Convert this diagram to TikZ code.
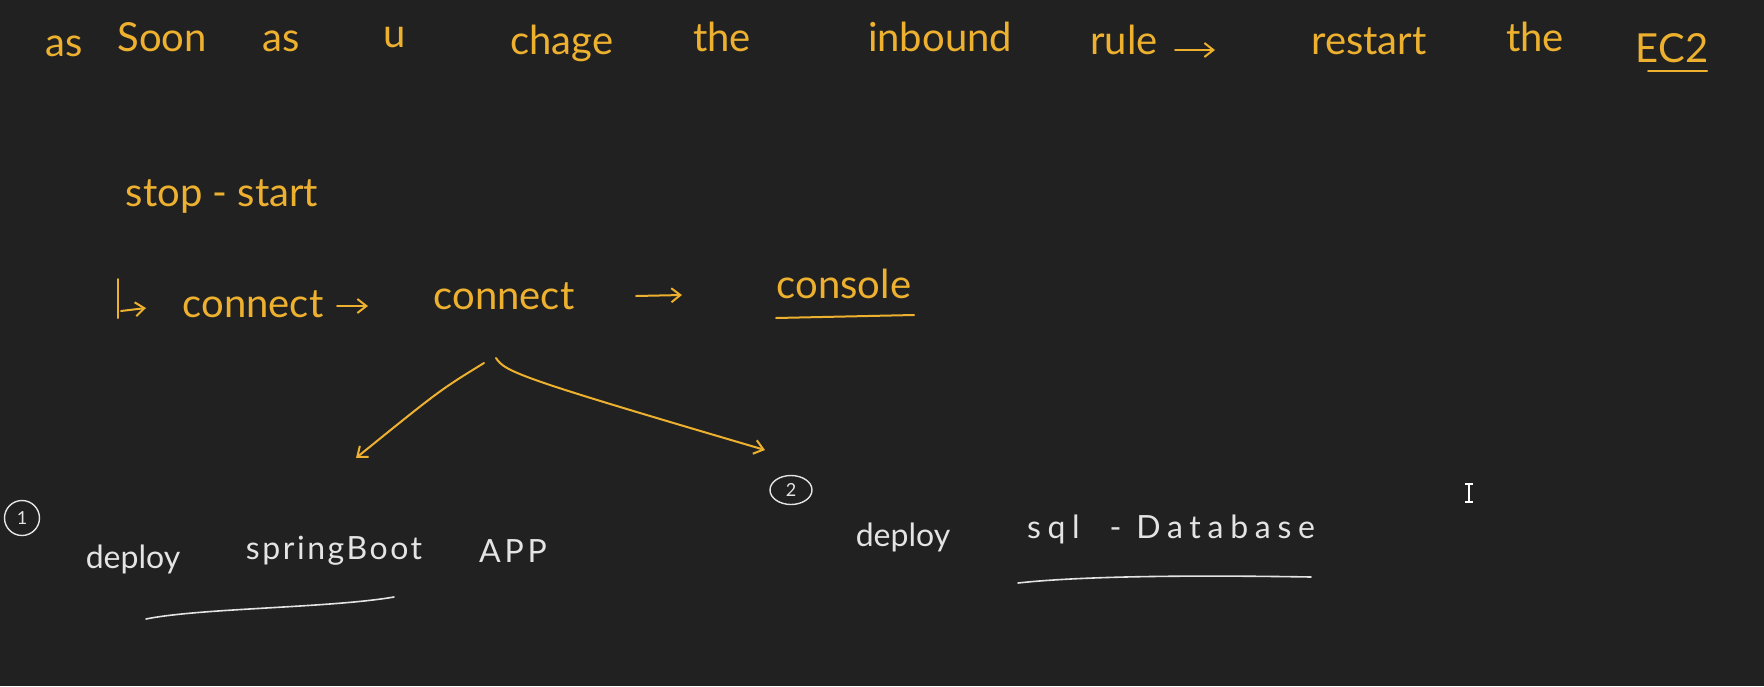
\documentclass[tikz,border=0pt]{standalone}
\usepackage{fontspec}
\setmainfont{Lato}
\newfontfamily\widefont[LetterSpace=12]{Lato}
\newfontfamily\midfont[LetterSpace=8]{Lato}
\newfontfamily\widerfont[LetterSpace=21]{Lato}
\usetikzlibrary{arrows.meta,shapes.geometric}
\definecolor{bg}{HTML}{212121}
\definecolor{ylw}{HTML}{EDB12F}
\definecolor{wht}{HTML}{E4E4E4}
\begin{document}
\begin{tikzpicture}[x=1pt,y=-1pt,
  ytxt/.style={text=ylw, font=\fontsize{40}{48}\selectfont, anchor=base, inner sep=0pt},
  wtxt/.style={text=wht, font=\fontsize{32}{38}\selectfont, anchor=base, inner sep=0pt},
  ystroke/.style={draw=ylw, line width=2pt, line cap=round},
  wstroke/.style={draw=wht, line width=1.6pt, line cap=round},
  yarr/.style={ystroke, -{Straight Barb[length=9pt,width=14pt]}},
  numbox/.style={draw=wht, line width=1.4pt, text=wht, font=\fontsize{18}{20}\selectfont, inner sep=0pt}
]
\fill[bg] (0,0) rectangle (1764,686);
\useasboundingbox (0,0) rectangle (1764,686);

% top line
\node[ytxt] (as1) at (64,56) {as};
\node[ytxt] (soon) at (162,51) {Soon};
\node[ytxt] (as2) at (281,51) {as};
\node[ytxt] (u) at (395,47) {u};
\node[ytxt] (chage) at (562,54) {chage};
\node[ytxt] (the1) at (722,51) {the};
\node[ytxt] (inbound) at (940,51) {inbound};
\node[ytxt] (rule) at (1124,54) {rule};
\coordinate (ra1) at (1175,50);
\coordinate (ra2) at (1215,50);
\draw[yarr] (ra1) -- (ra2);
\node[ytxt] (restart) at (1369,54) {restart};
\node[ytxt] (the2) at (1535,51) {the};
\node[ytxt] (ec2) at (1672,62) {EC2};
\draw[ystroke] (1648,71) -- (1707,71);

% stop - start
\node[ytxt] (stopstart) at (222,206) {stop - start};

% connect line
\draw[ystroke] (118,279) -- (118,318);
\draw[yarr] (121,311) -- (146,308);
\node[ytxt] (c1) at (253,317) {connect};
\coordinate (a1) at (337,306);
\coordinate (a2) at (368,306);
\draw[yarr] (a1) -- (a2);
\node[ytxt] (c2) at (504,309) {connect};
\coordinate (b1) at (636,296);
\coordinate (b2) at (682,295);
\draw[yarr] (b1) -- (b2);
\node[ytxt] (console) at (844,298) {console};
\draw[ystroke] (776,318) -- (914,315);

% branch arrows
\coordinate (l0) at (484,363);
\coordinate (l1) at (356,458);
\coordinate (r0) at (496,358);
\coordinate (r1) at (765,450);
\draw[yarr] (l0) .. controls (440,390) .. (l1);
\draw[yarr] (r0) .. controls (505,372) and (520,378) .. (r1);

% item 1
\node[numbox, circle, minimum size=35pt] (n1) at (22,518) {1};
\node[wtxt] (dep1) at (133,568) {deploy};
\node[wtxt] (spring) at (334,559) {\midfont springBoot};
\node[wtxt] (app) at (513,562) {\widefont APP};
\draw[wstroke] (146,619) .. controls (200,608) and (330,608) .. (394,597);

% item 2
\node[numbox, ellipse, minimum width=42pt, minimum height=29pt] (n2) at (791,490) {2};
\node[wtxt] (dep2) at (903,546) {deploy};
\node[wtxt] (sqldb) at (1171,538) {\widerfont sql\ \ - Database};
\draw[wstroke] (1018,583) .. controls (1100,574) and (1250,576) .. (1311,577);

% text cursor
\draw[white, line width=1.3pt] (1469,484) -- (1469,502);
\draw[white, line width=1.3pt] (1465,484) -- (1473,484);
\draw[white, line width=1.3pt] (1465,502) -- (1473,502);
\end{tikzpicture}
\end{document}
